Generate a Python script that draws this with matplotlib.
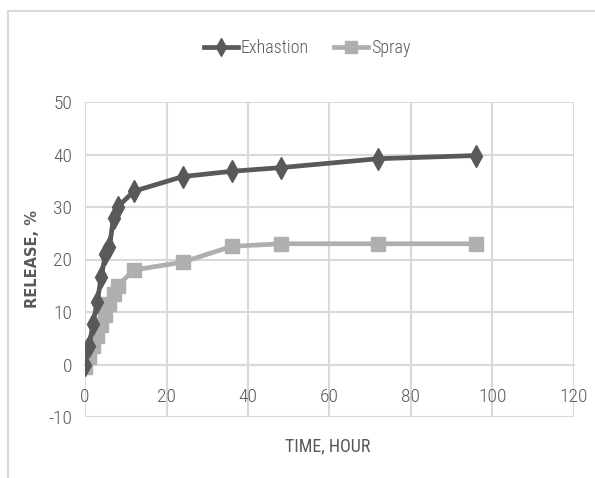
import matplotlib.pyplot as plt
from matplotlib.patches import Rectangle

# --- dados ---
tempo = [0, 1, 2, 3, 4, 5, 6, 7, 8, 12, 24, 36, 48, 72, 96]
exhastion = [0, 3.5, 7.8, 12, 16.7, 21, 22.3, 28, 30, 33, 35.8, 36.8, 37.5, 39.2, 39.8]
spray = [-0.5, 1.5, 3.5, 5.5, 7.5, 9.5, 11.5, 13.5, 15, 18, 19.5, 22.5, 23, 23, 23]

xticks = [0, 20, 40, 60, 80, 100, 120]
yticks = [-10, 0, 10, 20, 30, 40, 50]

plt.rcParams['font.family'] = ['Roboto Condensed', 'DejaVu Sans']
plt.rcParams['font.weight'] = 'light'
plt.rcParams['axes.unicode_minus'] = False

cor_exh = '#595959'
cor_spr = '#afafaf'
cor_grade = '#d9d9d9'
cor_texto = '#595959'

fig = plt.figure(figsize=(5.95, 4.78), dpi=100)
ax = fig.add_axes([85 / 595, 1 - 417 / 478, 489 / 595, 315 / 478])

# moldura da área do gráfico
fig.patches.append(Rectangle((8 / 595, -0.05), 1.1, 1 - 11 / 478 + 0.05,
                             transform=fig.transFigure, fill=False,
                             edgecolor=cor_grade, linewidth=1.5, zorder=0))

ax.plot(tempo, exhastion, color=cor_exh, linewidth=3.4, marker='d',
        markersize=11, label='Exhastion', zorder=4)
ax.plot(tempo, spray, color=cor_spr, linewidth=3.4, marker='s',
        markersize=10, label='Spray', zorder=3)

ax.set_xlim(0, 120)
ax.set_ylim(-10, 50)
ax.set_xticks(xticks)
ax.set_yticks(yticks)
ax.grid(True, color=cor_grade, linewidth=1.5)
ax.set_axisbelow(True)

for lado in ['top', 'right', 'left']:
    ax.spines[lado].set_visible(False)
ax.spines['bottom'].set_position(('data', 0))
ax.spines['bottom'].set_color(cor_grade)
ax.spines['bottom'].set_linewidth(1.5)
ax.tick_params(axis='both', length=0, labelsize=14, colors=cor_texto)
ax.tick_params(axis='y', pad=9)
ax.tick_params(axis='x', pad=17)

ax.set_xlabel('TIME, HOUR', fontsize=13, color=cor_texto, labelpad=0)
ax.xaxis.set_label_coords(0.497, -0.065)
ax.set_ylabel('RELEASE, %', fontsize=10.5, fontweight='bold', color=cor_texto,
              family='DejaVu Sans')
ax.yaxis.set_label_coords(-0.092, 0.5)

fig.legend(loc='center', bbox_to_anchor=(307 / 595, 1 - 48 / 478), ncol=2,
           frameon=False, fontsize=13, handlelength=1.9, handletextpad=0.15,
           columnspacing=1.4, labelcolor=cor_texto, markerscale=0.8)

plt.savefig('out.png', dpi=100)
